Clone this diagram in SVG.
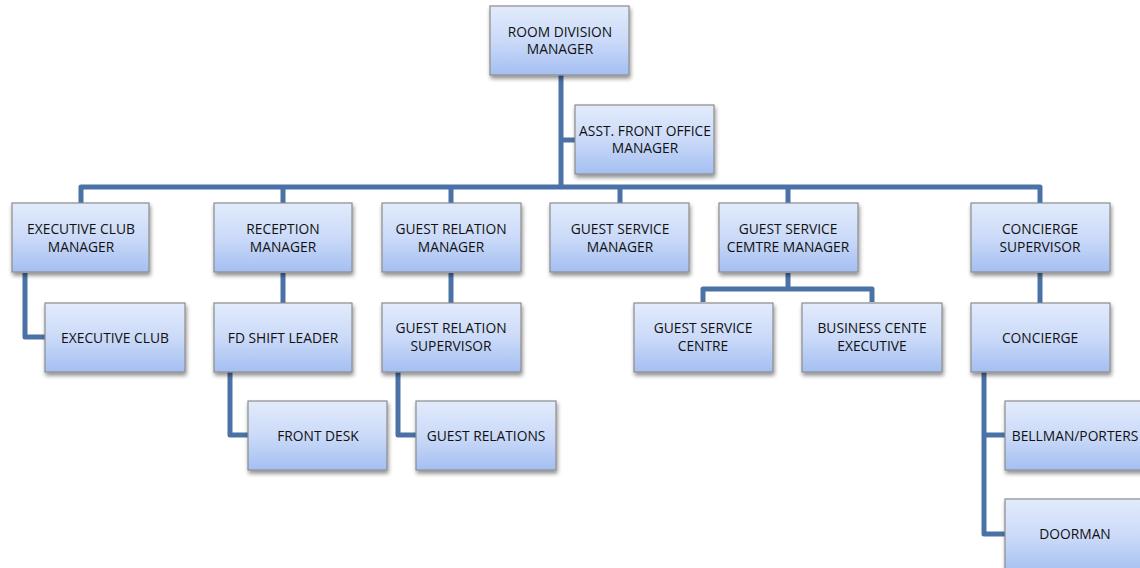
<svg xmlns="http://www.w3.org/2000/svg" width="1140" height="568" viewBox="0 0 1140 568">
<defs>
<linearGradient id="g" x1="0" y1="0" x2="0" y2="1">
<stop offset="0" stop-color="#e2ebfc"/>
<stop offset="0.5" stop-color="#cbdaf8"/>
<stop offset="1" stop-color="#a4bff2"/>
</linearGradient>
<filter id="sh" x="-10%" y="-10%" width="130%" height="140%">
<feGaussianBlur in="SourceAlpha" stdDeviation="2"/>
<feOffset dx="1" dy="3" result="b"/>
<feComponentTransfer><feFuncA type="linear" slope="0.45"/></feComponentTransfer>
<feMerge><feMergeNode/><feMergeNode in="SourceGraphic"/></feMerge>
</filter>
</defs>
<style>
rect{fill:url(#g);stroke:#8c8c8c;stroke-width:1.2;filter:url(#sh)}
text{font-family:"Open Sans","Liberation Sans",sans-serif;font-size:13.8px;fill:#111;text-anchor:middle}
.c path{fill:none;stroke:#4a72a6;stroke-width:5;stroke-linejoin:round}
</style>
<rect width="1140" height="568" fill="#fff" style="fill:#fff;stroke:none;filter:none"/>
<g class="c" id="connectors">
<path d="M561 75V187"/>
<path d="M561 140H575"/>
<path d="M81 203V187H1040V203"/>
<path d="M283 187V203M451 187V203M620 187V203M788 187V203"/>
<path d="M25 273V337H45"/>
<path d="M283 273V303"/>
<path d="M451 273V303"/>
<path d="M1040 273V303"/>
<path d="M230 372V435H248"/>
<path d="M398 372V435H416"/>
<path d="M788 273V289M703 302V289H872V302"/>
<path d="M984 372V534H1005M984 435H1005"/>
</g>
<g id="n-root"><rect x="490" y="6" width="139" height="69"/><text x="560" y="37">ROOM DIVISION</text><text x="560" y="54">MANAGER</text></g>
<g id="n-asst"><rect x="575" y="105" width="139" height="69"/><text x="645" y="136">ASST. FRONT OFFICE</text><text x="645" y="153">MANAGER</text></g>
<g id="n-ecm"><rect x="12" y="203" width="137" height="69"/><text x="81" y="234">EXECUTIVE CLUB</text><text x="81" y="252">MANAGER</text></g>
<g id="n-rm"><rect x="214" y="203" width="138" height="69"/><text x="283" y="234">RECEPTION</text><text x="283" y="252">MANAGER</text></g>
<g id="n-grm"><rect x="382" y="203" width="139" height="69"/><text x="451" y="234">GUEST RELATION</text><text x="451" y="252">MANAGER</text></g>
<g id="n-gsm"><rect x="550" y="203" width="139" height="69"/><text x="620" y="234">GUEST SERVICE</text><text x="620" y="252">MANAGER</text></g>
<g id="n-gscm"><rect x="719" y="203" width="139" height="69"/><text x="788" y="234">GUEST SERVICE</text><text x="788" y="252">CEMTRE MANAGER</text></g>
<g id="n-cs"><rect x="971" y="203" width="139" height="69"/><text x="1040" y="234">CONCIERGE</text><text x="1040" y="252">SUPERVISOR</text></g>
<g id="n-ec"><rect x="45" y="303" width="140" height="69"/><text x="115" y="343">EXECUTIVE CLUB</text></g>
<g id="n-fdsl"><rect x="214" y="303" width="138" height="69"/><text x="283" y="343">FD SHIFT LEADER</text></g>
<g id="n-grs"><rect x="382" y="303" width="139" height="69"/><text x="451" y="333">GUEST RELATION</text><text x="451" y="351">SUPERVISOR</text></g>
<g id="n-gsc"><rect x="634" y="303" width="139" height="69"/><text x="703" y="333">GUEST SERVICE</text><text x="703" y="351">CENTRE</text></g>
<g id="n-bce"><rect x="802" y="303" width="140" height="69"/><text x="872" y="333">BUSINESS CENTE</text><text x="872" y="351">EXECUTIVE</text></g>
<g id="n-con"><rect x="971" y="303" width="139" height="69"/><text x="1040" y="343">CONCIERGE</text></g>
<g id="n-fd"><rect x="248" y="401" width="139" height="69"/><text x="318" y="441">FRONT DESK</text></g>
<g id="n-gr"><rect x="416" y="401" width="140" height="69"/><text x="486" y="441">GUEST RELATIONS</text></g>
<g id="n-bp"><rect x="1005" y="401" width="145" height="69"/><text x="1075" y="441">BELLMAN/PORTERS</text></g>
<g id="n-dm"><rect x="1005" y="499" width="145" height="75"/><text x="1075" y="539">DOORMAN</text></g>
</svg>
